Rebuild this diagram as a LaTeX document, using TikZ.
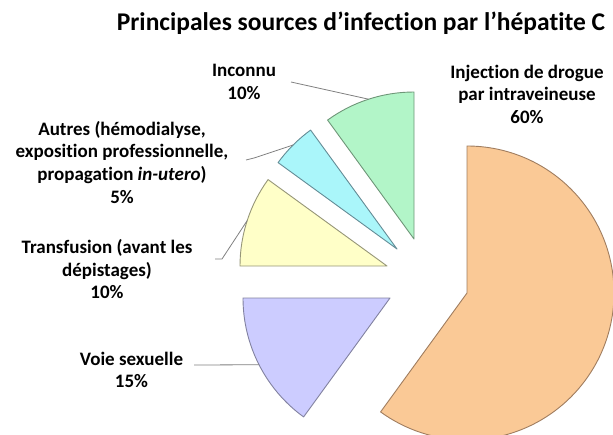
\documentclass[tikz,border=0pt]{standalone}
\usepackage{fontspec}
\setmainfont{Carlito}[Ligatures={NoCommon}]
\usetikzlibrary{calc}
\definecolor{orfill}{RGB}{250,201,150}
\definecolor{oredge}{RGB}{160,125,95}
\definecolor{grfill}{RGB}{178,245,200}
\definecolor{gredge}{RGB}{110,150,120}
\definecolor{cyfill}{RGB}{170,246,250}
\definecolor{cyedge}{RGB}{100,140,150}
\definecolor{yefill}{RGB}{255,255,200}
\definecolor{yeedge}{RGB}{150,150,120}
\definecolor{lafill}{RGB}{204,204,255}
\definecolor{laedge}{RGB}{130,130,160}
\definecolor{leadgray}{RGB}{128,128,128}
\tikzset{
  slice/.style={line width=0.9pt, line join=round},
  lbl/.style={align=center, font=\bfseries\fontsize{19}{22.7}\selectfont, inner sep=0pt},
  leader/.style={draw=leadgray, line width=0.8pt}
}
\begin{document}
\begin{tikzpicture}[x=1pt,y=1pt]
\useasboundingbox (0,0) rectangle (613,-434);
% apexes
\coordinate (o) at (467,-293);
\coordinate (g) at (414,-239);
\coordinate (c) at (397,-249);
\coordinate (yl) at (387,-266);
\coordinate (l) at (390,-298);
\def\R{147}
\filldraw[slice, fill=orfill, draw=oredge] (o) -- ++(90:\R) arc[start angle=90, end angle=-126, radius=\R] -- cycle;
\filldraw[slice, fill=grfill, draw=gredge] (g) -- ++(90:\R) arc[start angle=90, end angle=126, radius=\R] -- cycle;
\filldraw[slice, fill=cyfill, draw=cyedge] (c) -- ++(126:\R) arc[start angle=126, end angle=144, radius=\R] -- cycle;
\filldraw[slice, fill=yefill, draw=yeedge] (yl) -- ++(144:\R) arc[start angle=144, end angle=180, radius=\R] -- cycle;
\filldraw[slice, fill=lafill, draw=laedge] (l) -- ++(180:\R) arc[start angle=180, end angle=234, radius=\R] -- cycle;
% arc midpoints
\coordinate (gm) at ($(g)+(108:\R)$);
\coordinate (cm) at ($(c)+(135:\R)$);
\coordinate (ym) at ($(yl)+(162:\R)$);
\coordinate (lm) at ($(l)+(207:\R)$);
% title
\node[font=\bfseries\fontsize{25.5}{30}\selectfont, inner sep=0pt] (title) at (361,-23.5) {Principales sources d’infection par l’hépatite C};
% labels
\node[lbl] (inj) at (527,-94.3) {Injection de drogue\\par intraveineuse\\60\%};
\node[lbl] (inc) at (244,-81.7) {Inconnu\\10\%};
\node[lbl] (aut) at (122,-162.3) {Autres (hémodialyse,\\exposition professionnelle,\\propagation \textit{in-utero})\\5\%};
\node[lbl] (tra) at (107,-269.3) {Transfusion (avant les\\dépistages)\\10\%};
\node[lbl] (voi) at (131.5,-370) {Voie sexuelle\\15\%};
% leader start points
\coordinate (incs) at (291,-82);
\coordinate (auts) at (246,-160);
\coordinate (autk) at (254,-158);
\coordinate (tras) at (215,-259);
\coordinate (trak) at (222,-259);
\coordinate (vois) at (194,-365);
\draw[leader] (incs) -- (gm);
\draw[leader] (auts) -- (autk) -- (cm);
\draw[leader] (tras) -- (trak) -- (ym);
\draw[leader] (vois) -- (lm);
\end{tikzpicture}
\end{document}
